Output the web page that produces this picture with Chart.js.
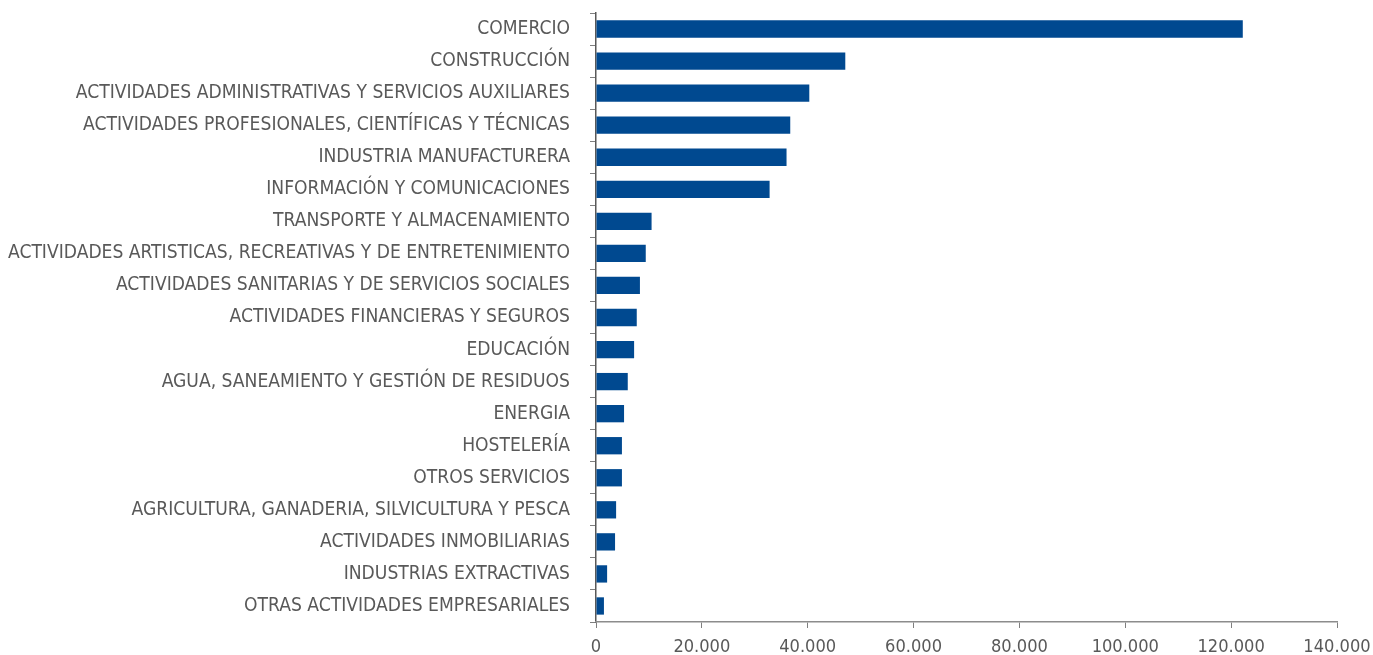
<!DOCTYPE html>
<html>
<head>
<meta charset="utf-8">
<script src="https://cdn.jsdelivr.net/npm/chart.js@4"></script>
<style>
  html, body { margin: 0; padding: 0; background: #ffffff; }
  #wrap { width: 1373px; height: 655px; position: relative; }
</style>
</head>
<body>
<div id="wrap"><canvas id="c"></canvas></div>
<script>
const categories = [
  "COMERCIO",
  "CONSTRUCCIÓN",
  "ACTIVIDADES ADMINISTRATIVAS Y SERVICIOS AUXILIARES",
  "ACTIVIDADES PROFESIONALES, CIENTÍFICAS Y TÉCNICAS",
  "INDUSTRIA MANUFACTURERA",
  "INFORMACIÓN Y COMUNICACIONES",
  "TRANSPORTE Y ALMACENAMIENTO",
  "ACTIVIDADES ARTISTICAS, RECREATIVAS Y DE ENTRETENIMIENTO",
  "ACTIVIDADES SANITARIAS Y DE SERVICIOS SOCIALES",
  "ACTIVIDADES FINANCIERAS Y SEGUROS",
  "EDUCACIÓN",
  "AGUA, SANEAMIENTO Y GESTIÓN DE RESIDUOS",
  "ENERGIA",
  "HOSTELERÍA",
  "OTROS SERVICIOS",
  "AGRICULTURA, GANADERIA, SILVICULTURA Y PESCA",
  "ACTIVIDADES INMOBILIARIAS",
  "INDUSTRIAS EXTRACTIVAS",
  "OTRAS ACTIVIDADES EMPRESARIALES"
];
const values = [
  122200, 47100, 40300, 36700, 36000, 32800, 10500, 9400, 8300, 7700,
  7200, 6000, 5300, 4900, 4900, 3800, 3600, 2100, 1500
];
const xTicks = [0, 20000, 40000, 60000, 80000, 100000, 120000, 140000];

function pickFont() {
  const c = document.createElement('canvas').getContext('2d');
  const probe = "ACTIVIDADES ARTISTICAS, RECREATIVAS Y DE ENTRETENIMIENTO";
  c.font = '100px monospace';
  const mono = c.measureText(probe).width;
  const cands = ['Liberation Sans Narrow', 'DejaVu Sans Condensed', 'Roboto'];
  for (const f of cands) {
    c.font = '100px "' + f + '", monospace';
    const w = c.measureText(probe).width;
    if (Math.abs(w - mono) > 1) {
      const size = Math.round(100 * 562 / w * 10) / 10;
      return { family: '"' + f + '"', size: size, xsize: Math.round(size * 9.5) / 10 };
    }
  }
  return { family: 'sans-serif', size: 16, xsize: 16 };
}
const fnt = pickFont();
const textColor = '#595959';

new Chart(document.getElementById('c'), {
  type: 'bar',
  data: {
    labels: categories,
    datasets: [{
      data: values,
      backgroundColor: '#004990',
      borderWidth: 0,
      barPercentage: 0.54,
      categoryPercentage: 1.0
    }]
  },
  options: {
    indexAxis: 'y',
    responsive: true,
    maintainAspectRatio: false,
    animation: false,
    layout: { padding: { top: 13, right: 36, bottom: 0, left: 0 } },
    plugins: { legend: { display: false }, tooltip: { enabled: false } },
    scales: {
      y: {
        type: 'category',
        afterFit: (s) => { s.width = 596; s.paddingTop = 0; s.paddingBottom = 0; },
        grid: {
          offset: true,
          drawOnChartArea: false,
          drawTicks: true,
          tickLength: 6,
          color: '#7f7f7f'
        },
        border: { display: true, color: '#595959', width: 1.5 },
        ticks: {
          color: textColor,
          padding: 20,
          font: { family: fnt.family, size: fnt.size }
        }
      },
      x: {
        min: 0,
        max: 140000,
        afterBuildTicks: (axis) => { axis.ticks = xTicks.map(v => ({ value: v })); },
        afterFit: (s) => { s.height = 33; s.paddingLeft = 0; s.paddingRight = 0; },
        grid: {
          drawOnChartArea: false,
          drawTicks: true,
          tickLength: 6,
          color: '#7f7f7f'
        },
        border: { display: true, color: '#8c8c8c', width: 1.5 },
        ticks: {
          color: textColor,
          padding: 8,
          maxRotation: 0,
          autoSkip: false,
          font: { family: fnt.family, size: fnt.xsize },
          callback: (v) => v.toLocaleString('de-DE')
        }
      }
    }
  }
});
</script>
</body>
</html>
